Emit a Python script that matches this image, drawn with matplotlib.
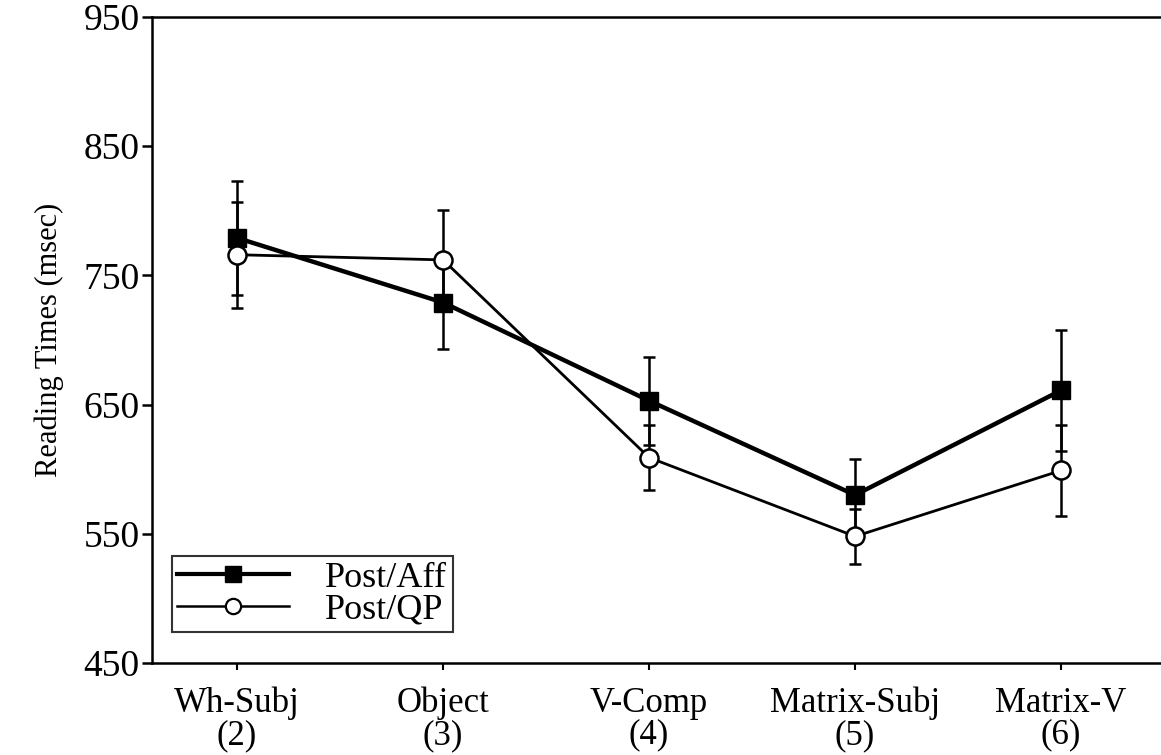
import numpy as np
import matplotlib
matplotlib.use("Agg")
import matplotlib.pyplot as plt
from matplotlib.lines import Line2D

regions = ["Wh-Subj\n(2)", "Object\n(3)", "V-Comp\n(4)", "Matrix-Subj\n(5)", "Matrix-V\n(6)"]
aff = [779, 729, 653, 580, 661]
aff_err = [44, 36, 34, 28, 47]
qp = [766, 762, 609, 548, 599]
qp_err = [41, 39, 25, 21, 35]

plt.rcParams['font.family'] = ['Liberation Serif', 'DejaVu Serif']

fig = plt.figure(figsize=(11.61, 7.55), dpi=100)
ax = fig.add_axes([152/1161, 1-663/755, 1-152/1161, (663-17)/755])

x = np.arange(len(regions))
ax.errorbar(x, aff, yerr=aff_err, color='black', lw=3.2, marker='s', ms=13,
            mfc='black', mec='black', ecolor='black', elinewidth=1.8,
            capsize=4, capthick=1.8, zorder=3)
ax.errorbar(x, qp, yerr=qp_err, color='black', lw=2, marker='o', ms=13,
            mfc='white', mec='black', mew=1.8, ecolor='black', elinewidth=1.8,
            capsize=4, capthick=1.8, zorder=4)

ax.set_xlim(-0.413, 4.485)
ax.set_ylim(450, 950)
ax.set_yticks([450, 550, 650, 750, 850, 950])
ax.set_xticks(x)
ax.set_xticklabels(regions, fontsize=25, linespacing=0.95)
ax.tick_params(axis='y', labelsize=27, direction='out', length=7, width=1.8, pad=2)
ax.tick_params(axis='x', direction='out', length=5, width=1.5, pad=12)
ax.set_ylabel("Reading Times (msec)", fontsize=22, labelpad=14)

ax.spines['right'].set_visible(False)
for s in ['left', 'top', 'bottom']:
    ax.spines[s].set_linewidth(1.8)

handles = [
    Line2D([], [], color='black', lw=3, marker='s', ms=11, mfc='black', mec='black'),
    Line2D([], [], color='black', lw=1.8, marker='o', ms=11, mfc='white', mec='black', mew=1.6),
]
leg = ax.legend(handles, ['Post/Aff', 'Post/QP'], loc='lower left',
                bbox_to_anchor=(0.0198, 0.048), borderaxespad=0, fontsize=26,
                frameon=True, fancybox=False, edgecolor='black',
                handlelength=3.1, handletextpad=1.0, borderpad=0.15,
                labelspacing=-0.05)
leg.get_frame().set_linewidth(1.5)

fig.savefig('out.png', dpi=100)
